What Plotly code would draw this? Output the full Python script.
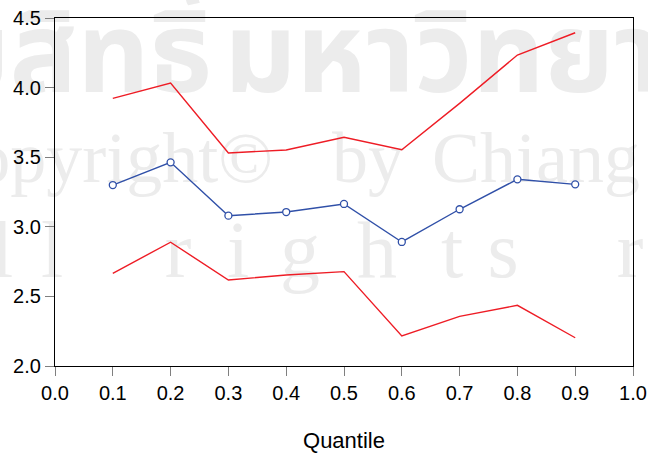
import plotly.graph_objects as go

# Quantile regression estimates with upper/lower confidence bounds
quantiles = [0.1, 0.2, 0.3, 0.4, 0.5, 0.6, 0.7, 0.8, 0.9]
estimate = [3.30, 3.463, 3.08, 3.106, 3.164, 2.891, 3.126, 3.341, 3.305]
upper_bound = [3.923, 4.033, 3.530, 3.552, 3.643, 3.554, 3.887, 4.234, 4.394]
lower_bound = [2.666, 2.889, 2.618, 2.654, 2.678, 2.216, 2.357, 2.436, 2.203]

x_ticks = [0.0, 0.1, 0.2, 0.3, 0.4, 0.5, 0.6, 0.7, 0.8, 0.9, 1.0]
y_ticks = [2.0, 2.5, 3.0, 3.5, 4.0, 4.5]

RED = "#EE1C25"
BLUE = "#3050A8"

W, H = 648, 453
L, R, T, B = 55, 15, 18, 87
PW, PH = W - L - R, H - T - B

fig = go.Figure()
fig.add_trace(go.Scatter(x=quantiles, y=upper_bound, mode="lines",
                         line=dict(color=RED, width=1.4), showlegend=False))
fig.add_trace(go.Scatter(x=quantiles, y=lower_bound, mode="lines",
                         line=dict(color=RED, width=1.4), showlegend=False))
fig.add_trace(go.Scatter(x=quantiles, y=estimate, mode="lines+markers",
                         line=dict(color=BLUE, width=1.4),
                         marker=dict(symbol="circle", size=7, color="white",
                                     line=dict(color=BLUE, width=1.3)),
                         showlegend=False))


def px_to_paper(px, py):
    return (px - L) / PW, (H - B - py) / PH


WM = "#ECECEC"
shapes = []


def wm_text(text, cx, cy, size, family, anchor="center", w=900, weight="normal"):
    # faint background lettering, drawn beneath the traces
    if anchor == "center":
        x0p, x1p = cx - w / 2, cx + w / 2
        pos = "middle center"
    elif anchor == "right":
        x0p, x1p = cx - w, cx
        pos = "middle right"
    else:
        x0p, x1p = cx, cx + w
        pos = "middle left"
    x0, y0 = px_to_paper(x0p, cy + 60)
    x1, y1 = px_to_paper(x1p, cy - 60)
    shapes.append(dict(type="rect", xref="paper", yref="paper",
                       x0=x0, x1=x1, y0=y0, y1=y1, layer="below",
                       line=dict(width=0), fillcolor="rgba(0,0,0,0)",
                       label=dict(text=text, textposition=pos, padding=0,
                                  font=dict(size=size, color=WM, family=family,
                                            weight=weight))))


THAI = "Noto Sans Thai, Noto Serif Thai, Loma, Garuda, sans-serif"
wm_text("ลิขสิทธิ์", 215, 64, 112, THAI, anchor="right", weight="bold")
wm_text("มหาวิทยาลัยเชียงใหม่", 221, 64, 112, THAI, anchor="left", weight="bold")
wm_text("Copyright©", 276, 150, 72, "Liberation Serif", anchor="right")
wm_text("by", 329, 150, 72, "Liberation Serif", anchor="left")
wm_text("Chiang Mai University", 429, 150, 72, "Liberation Serif", anchor="left")
for ch, cx in [("l", 2), ("l", 52), ("r", 178), ("i", 238), ("g", 300),
               ("h", 377), ("t", 452), ("s", 503), ("r", 630)]:
    wm_text(ch, cx, 241, 80, "Liberation Serif", anchor="center", w=120)

axis_font = dict(family="Liberation Sans, Arial, sans-serif", size=20, color="black")
fig.update_layout(
    width=W, height=H,
    margin=dict(l=L, r=R, t=T, b=B, autoexpand=False),
    paper_bgcolor="white",
    plot_bgcolor="rgba(0,0,0,0)",
    shapes=shapes,
    xaxis=dict(range=[0, 1], tickvals=x_ticks,
               ticktext=[f"{v:.1f}" for v in x_ticks],
               showgrid=False, zeroline=False, automargin=False,
               showline=True, linecolor="black", linewidth=1.3, mirror=True,
               ticks="outside", ticklen=9, tickcolor="#7F7F7F", tickwidth=1,
               tickfont=axis_font,
               title=dict(text="Quantile", standoff=36,
                          font=dict(family="Liberation Sans, Arial, sans-serif",
                                    size=22, color="black"))),
    yaxis=dict(range=[2.0, 4.5], tickvals=y_ticks,
               ticktext=[f"{v:.1f}" for v in y_ticks],
               showgrid=False, zeroline=False, automargin=False,
               showline=True, linecolor="black", linewidth=1.3, mirror=True,
               ticks="outside", ticklen=9, tickcolor="#7F7F7F", tickwidth=1,
               tickfont=axis_font),
)

fig.write_html("out.html")
